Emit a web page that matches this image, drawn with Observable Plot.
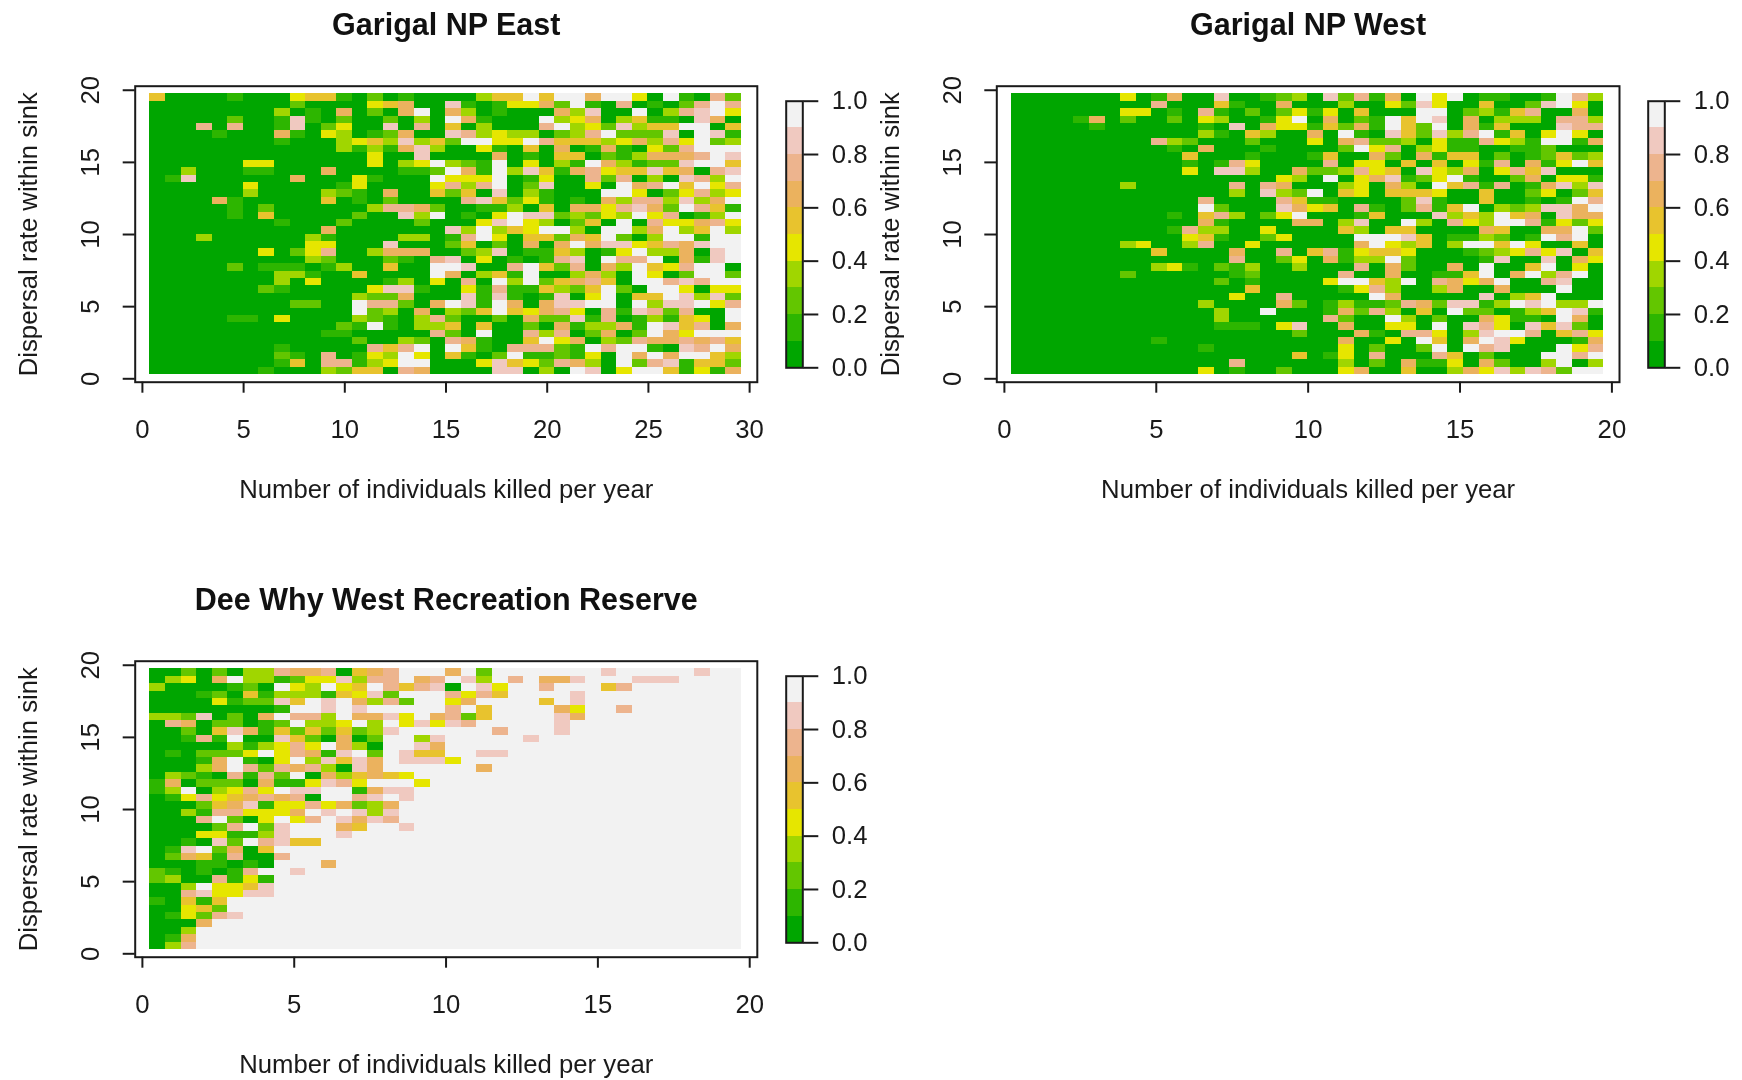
<!DOCTYPE html>
<html><head><meta charset="utf-8">
<script src="https://cdn.jsdelivr.net/npm/d3@7"></script>
<script src="https://cdn.jsdelivr.net/npm/@observablehq/plot@0.6"></script>
<style>
html,body{margin:0;padding:0;background:#fff}
#page{position:relative;width:1742px;height:1080px;overflow:hidden;background:#fff}
#page>svg{position:absolute;overflow:visible;filter:blur(0.45px)}
</style></head><body><div id="page"></div>
<script>
// class index 0-9 per cell, top row first, 38 columns in 38 rows
const eastRows = [
"5000010004 5510201000 0355959969 94091072",
"0000000002 0000456008 1014462910 70102797",
"0000000030 1060206906 3010006380 09037894",
"0000020018 1020020309 6100093460 35110860",
"0007070018 0240080705 0300079342 83559905",
"0000100061 0430126008 7343302379 22280981",
"0000000010 0034538352 9944975553 46374923",
"0000000000 0031316830 0410506016 10427999",
"0000000000 0000400800 0060105502 13666798",
"0000004400 0000403493 2190403196 31228995",
"0030001100 0600001129 6193851674 55856078",
"0180000006 0004100094 4490140072 70308739",
"0000004000 0014000047 3790280040 96795947",
"0000003000 0321060052 5080310009 94024734",
"0000610000 0501020000 7852410106 37738369",
"0000010200 0000377620 0113050664 78629751",
"0000010500 0002008390 1049882324 39470139",
"0000000010 0020000200 0489430250 90744674",
"0000000000 0600000008 3935499309 93693593",
"0003000000 3100003301 7940552659 20399199",
"0000000000 4400080002 5020606968 84576899",
"0000000402 4700366600 2380115301 49336089",
"0000000000 3200021078 0401017809 77906189",
"0000020111 0130050099 8007952706 39547990",
"0000000033 1005000096 0351900363 09402992",
"0000000030 4000013040 7093925675 09978799",
"0000000210 0000488100 4171153259 20994044",
"0000000000 0003226000 8181018049 05598382",
"0000000002 2009772069 8196068899 09388947",
"0000000000 0009230603 2595467407 18727009",
"0000011040 0003210372 0020622817 01315409",
"0000000000 0021910335 0500206133 61985706",
"0000000000 0110000072 0900737026 02964999",
"0000000000 0002003207 6100594603 27667675",
"0000000010 0000757909 5107772197 99108796",
"0000000021 0701439405 1029112140 96969953",
"0000000015 0771349900 0485427630 92781552",
"0000000100 0325507600 0088030980 49951416"
];
const westRows = [
"0000000401 6008001230 8271609490 11001973",
"0000000007 0005100600 0300428400 50028940",
"0000000440 1071020241 4050009902 31570060",
"0000160200 2043001490 6021959806 03330773",
"0000010000 0010806441 5261952906 15000877",
"0000000000 0031053006 0910852837 91504940",
"0000000007 3200020004 0672230411 74319916",
"0000000000 1060001000 0294703411 00112000",
"0000000000 0500010001 5006206155 02012523",
"0000000000 0101740000 7044050504 17061495",
"0000000000 0408830062 2374508436 04758000",
"0000000000 0000000430 9046812491 00260441",
"0000000300 0000707600 0340630957 17016838",
"0000000000 0000308329 0540555400 50024025",
"0000000000 0070000751 1000028100 50010197",
"0000000000 0092000864 5071027159 03238869",
"0000000000 1057302490 0015000835 39560866",
"0000000000 0061000066 0380093074 39971424",
"0000000000 1733004000 0530550000 65006692",
"0000000000 0451002400 0099985011 32019790",
"0000000340 0370040000 0069435039 95940050",
"0000000005 0000600705 7145540001 23474805",
"0000000000 0000700240 6133920000 18008064",
"0000000003 4102130030 0070620060 90059040",
"0000000200 0000120000 0700600115 90693790",
"0000000000 0002010000 4995390764 69007800",
"0000000000 0000050000 0147300360 06000900",
"0000000000 0000400700 0009600000 80359000",
"0000000000 0030000620 1311276288 13989339",
"0000000000 0003009000 1627305092 20135981",
"0000000000 0003000000 7200930200 64110960",
"0000000000 0001110480 0600440908 74085820",
"0000000000 0000000020 0061077403 89970574",
"0000000001 0000000000 0600409506 98400016",
"0000000000 0010000000 0402002909 78000947",
"0000000000 0000000050 1407000750 20009979",
"0000000000 0000700000 0302061140 62003903",
"0000000000 0040100200 0460050036 48387299"
];
const deeWhyRows = [
"0020203376 6705679996 9299999998 99999899",
"0340693312 4483779679 8397966899 98889999",
"3000012094 3945975780 9849979995 79999999",
"0001205133 3154829997 4759999899 99999999",
"0000412285 9896372994 6999959899 99999999",
"0000000019 9898999997 9599996499 79999999",
"3328020697 7396684967 2599998699 99999999",
"0760220129 3349394848 7999998999 99999999",
"0020586152 5252389999 9979998999 99999999",
"0017190085 2060299389 9999899999 99999999",
"0000031347 4963099869 9999999999 99999999",
"0102224947 6189298559 9889999999 99999999",
"0001691049 3858698884 9999999999 99999999",
"0003697276 7308699999 9699999999 99999999",
"0321071729 0635654999 9999999999 99999999",
"1602220611 4874999499 9999999999 99999999",
"1390347498 8991688999 9999999999 99999999",
"0147456767 0997898999 9999999999 99999999",
"0002568144 7462369999 9999999999 99999999",
"0031774446 9898389999 9999999999 99999999",
"0007920494 7986879999 9999999999 99999999",
"0000279289 9965998999 9999999999 99999999",
"0004411389 9989999999 9999999999 99999999",
"0010829785 5999999999 9999999999 99999999",
"0189260599 9999999999 9999999999 99999999",
"0265170079 9999999999 9999999999 99999999",
"0001101099 9699999999 9999999999 99999999",
"2101017998 9999999999 9999999999 99999999",
"2300714199 9999999999 9999999999 99999999",
"0039445899 9999999999 9999999999 99999999",
"0078448899 9999999999 9999999999 99999999",
"1051599999 9999999999 9999999999 99999999",
"0045299999 9999999999 9999999999 99999999",
"0142789999 9999999999 9999999999 99999999",
"0006999999 9999999999 9999999999 99999999",
"0039999999 9999999999 9999999999 99999999",
"0169999999 9999999999 9999999999 99999999",
"0379999999 9999999999 9999999999 99999999"
];
const palette = ["#00A600","#2DB600","#63C600","#A0D600","#E6E600","#E8C32E","#EBB25E","#EDB48E","#F0C9C0","#F2F2F2"];
const breaks = [0.1,0.2,0.3,0.4,0.5,0.6,0.7,0.8,0.9];
const legendTicks = [0,0.2,0.4,0.6,0.8,1];
const xLabel = "Number of individuals killed per year";
const yLabel = "Dispersal rate within sink";
const FONT = "'Liberation Sans', Arial, sans-serif";
const INK = "#1a1a1a";
const FS = 25.7;

const page = document.getElementById("page");
function place(svg,left,top){svg.style.left=left+"px";svg.style.top=top+"px";page.appendChild(svg);}

function heatmap({rows,title,left,top,boxLeft,boxRight,xDomain,xCells,xTicks}){
  const W=780,H=505,T=85.7,B=381.7;
  const cells=[];
  const yCells=[0.3,19.75];
  const dx=(xCells[1]-xCells[0])/38, dy=(yCells[1]-yCells[0])/38;
  rows.forEach((r,ri)=>{
    const s=r.replace(/ /g,"");
    for(let c=0;c<38;c++){
      cells.push({x1:xCells[0]+c*dx,x2:xCells[0]+(c+1)*dx,
                  y1:yCells[1]-(ri+1)*dy,y2:yCells[1]-ri*dy,
                  value:(+s[c])/10+0.05});
    }
  });
  const svg=Plot.plot({
    width:W,height:H,marginLeft:boxLeft-left,marginRight:W-(boxRight-left),marginTop:T,marginBottom:H-B,
    style:{fontFamily:FONT,fontSize:FS+"px",color:INK,background:"transparent"},
    x:{domain:xDomain,label:null},
    y:{domain:[-0.236,20.28],label:null},
    color:{type:"threshold",domain:breaks,range:palette},
    marks:[
      Plot.rect(cells,{x1:"x1",x2:"x2",y1:"y1",y2:"y2",fill:"value",inset:0,shapeRendering:"crispEdges"}),
      Plot.frame({stroke:INK,strokeWidth:2}),
      Plot.axisX({ticks:xTicks,tickSize:11,tickPadding:27,stroke:INK,strokeWidth:2,tickFormat:d=>String(d),
        label:xLabel,labelAnchor:"center",labelArrow:"none",labelOffset:115.5,fill:INK}),
      Plot.axisY({ticks:[0,5,10,15,20],tickSize:12,tickPadding:24,tickRotate:-90,stroke:INK,strokeWidth:2,tickFormat:d=>String(d),
        label:yLabel,labelAnchor:"center",labelArrow:"none",labelOffset:116,fill:INK}),
      Plot.text([title],{text:d=>d,frameAnchor:"top",dy:-61,lineAnchor:"middle",fontWeight:"bold",fontSize:30.5,fill:"#111"})
    ]
  });
  place(svg,left,top);
}

function legend(left,top){
  const W=110,H=400,T=100.7,B=367.3;
  const levels=palette.map((c,i)=>({y1:i/10,y2:(i+1)/10,value:i/10+0.05}));
  const svg=Plot.plot({
    width:W,height:H,marginLeft:15.7,marginRight:W-32.3,marginTop:T,marginBottom:H-B,
    style:{fontFamily:FONT,fontSize:FS+"px",color:INK,background:"transparent"},
    x:{domain:[0,1],axis:null},
    y:{domain:[0,1],label:null},
    color:{type:"threshold",domain:breaks,range:palette},
    marks:[
      Plot.rect(levels,{x1:0,x2:1,y1:"y1",y2:"y2",fill:"value",shapeRendering:"crispEdges"}),
      Plot.frame({stroke:INK,strokeWidth:2}),
      Plot.axisY({anchor:"right",ticks:legendTicks,tickSize:15,tickPadding:14,stroke:INK,strokeWidth:2,tickFormat:d3.format(".1f"),label:null,fill:INK})
    ]
  });
  place(svg,left,top);
}

heatmap({rows:eastRows,title:"Garigal NP East",left:0,top:0,boxLeft:134.7,boxRight:756.8,xDomain:[-0.356,30.38],xCells:[0.375,29.59],xTicks:[0,5,10,15,20,25,30]});
heatmap({rows:westRows,title:"Garigal NP West",left:860,top:0,boxLeft:996.3,boxRight:1619,xDomain:[-0.25,20.25],xCells:[0.234,19.73],xTicks:[0,5,10,15,20]});
heatmap({rows:deeWhyRows,title:"Dee Why West Recreation Reserve",left:0,top:575,boxLeft:134.7,boxRight:756.8,xDomain:[-0.237,20.25],xCells:[0.25,19.73],xTicks:[0,5,10,15,20]});
legend(770,0);
legend(1632,0);
legend(770,575);
</script></body></html>
